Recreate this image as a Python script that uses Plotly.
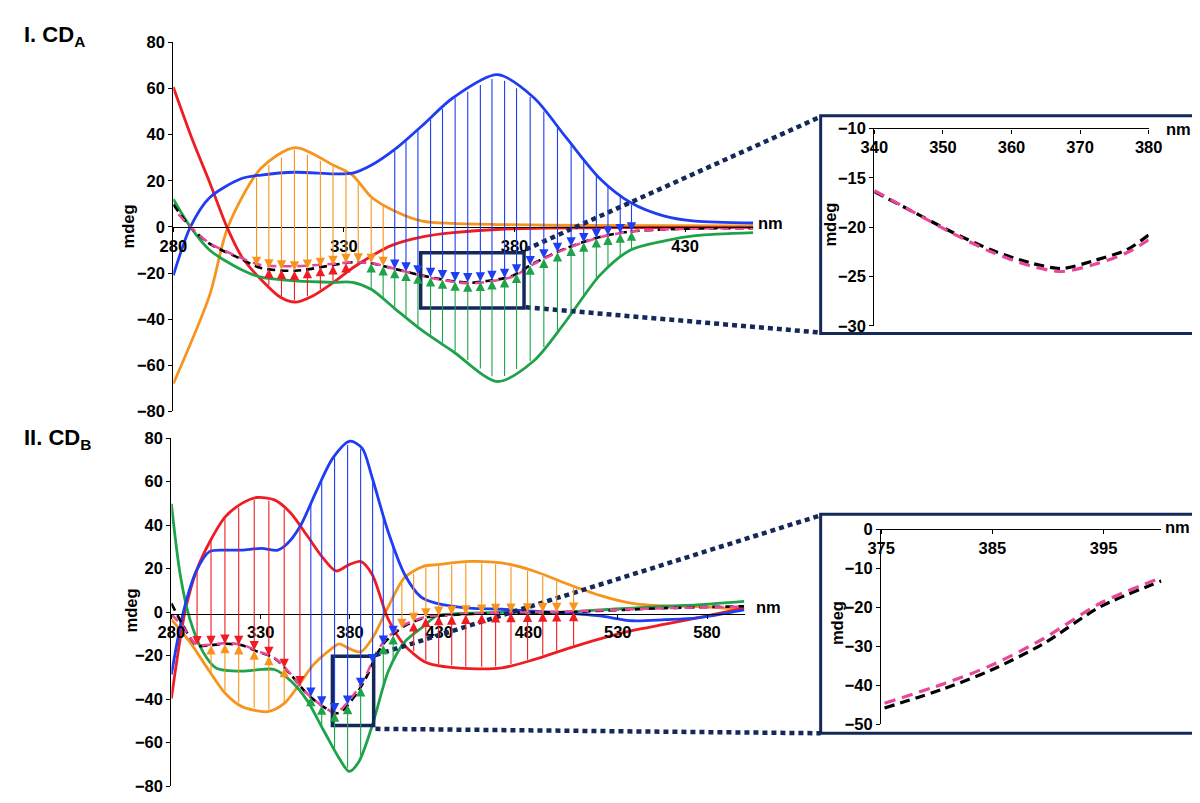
import numpy as np
import plotly.graph_objects as go

# ---------------- data : panel I (CD_A) ----------------
red_I_x = [280, 285.8, 290.6, 295.7, 300, 305.7, 311.4, 315.7, 321, 327, 332.5, 338, 344, 353, 362, 376, 390, 410, 430, 450]
red_I_y = [60.6, 37, 19.5, 0, -12.8, -22.8, -30.5, -32.6, -29.8, -24, -17.8, -12.7, -8, -4.3, -2.5, -1, -0.5, -0.3, -0.2, -0.2]
blue_I_x = [280, 285, 290.6, 300, 305.7, 315.7, 327, 332.5, 338, 345, 353, 362, 375, 385.7, 395, 405, 414, 424, 433, 450]
blue_I_y = [-21, 0, 12.7, 21, 22.5, 23.7, 23, 23.3, 26.7, 33.7, 44, 56, 66, 56, 39, 21, 10.6, 4.7, 2.5, 1.7]
green_I_x = [280, 285, 290.6, 300, 305.7, 315.7, 327, 332.5, 338, 345, 353, 362, 375, 385.7, 395, 405, 414, 424, 433, 450]
green_I_y = [12, 0, -10, -18.6, -21.8, -23.4, -24, -24, -27, -35.5, -45, -54, -67, -58, -41, -21, -10, -6, -3.8, -2.5]
orange_I_x = [280, 290.6, 296, 305.7, 315.7, 327, 332.5, 338, 345, 353, 362, 376, 400, 450]
orange_I_y = [-68, -29.8, 0, 25.4, 34.4, 26.7, 22.5, 13, 6.8, 2.5, 1.5, 1, 0.7, 0.5]
black_I_x = [280, 285, 290.6, 300, 305.7, 315.7, 327, 332.5, 338, 340, 345.5, 351.3, 357, 362.6, 367.3, 372, 376.8, 380, 385.7, 395, 405, 414, 430, 450]
black_I_y = [9.7, 0, -7.2, -14, -17.8, -19, -16.5, -15.3, -15.7, -16.4, -18.4, -20.5, -22.3, -23.6, -24.2, -23.4, -22.3, -20.8, -15.7, -9.3, -4.4, -2, -0.8, -0.5]
pink_I_x = [281.5, 285, 290.6, 300, 305.7, 315.7, 327, 332.5, 338, 340, 345.5, 351.3, 357, 362.6, 367.3, 372, 376.8, 380, 385.7, 395, 405, 414, 430, 450]
pink_I_y = [5.5, 0, -7, -13.5, -16.5, -17, -16, -15.3, -15.7, -16.3, -18.4, -20.6, -22.5, -23.9, -24.5, -23.8, -22.6, -21.3, -16, -9.5, -4.5, -2, -0.8, -0.5]
arrows_I_x = [304.4, 308.0, 311.7, 315.5, 319.3, 323.1, 326.8, 330.6, 334.2, 338.0, 341.5, 344.9, 348.2, 351.7,
              355.4, 358.9, 362.6, 366.3, 370.0, 373.4, 377.1, 380.6, 384.6, 388.6, 392.6, 396.6, 400.3, 404.0,
              407.4, 411.0, 414.3]
arrows_I_orange = arrows_I_x[0:11]
arrows_I_red = arrows_I_x[1:8]
arrows_I_green = arrows_I_x[9:]
arrows_I_blue = arrows_I_x[11:]

# ---------------- data : panel II (CD_B) ----------------
blue_II_x = [280, 286.7, 294, 301.3, 310.4, 319.5, 330.5, 339.6, 345, 352.3, 361.4, 370.5, 380, 386.9, 392.4, 401.5,
             410.6, 419.7, 428.6, 447, 465, 483, 501, 520, 538, 556.6, 574.5, 600.8]
blue_II_y = [-28.7, 0, 18.9, 27.8, 28.5, 28.5, 29.3, 28.5, 31.5, 39.7, 56, 70.9, 78.6, 75.3, 62, 36.7,
             17.4, 7, 4, 1.8, 1.3, 0.4, -0.5, -1.8, -4, -3.5, -2.7, 1]
red_II_x = [280, 287.6, 294, 301.3, 310.4, 319.5, 327.7, 337.7, 346.8, 356, 365, 372.3, 379.6, 386, 392.4, 401.5,
            410.6, 421.5, 428.6, 447, 465, 483, 501.9, 520, 538, 556.6, 574.5, 600.8]
red_II_y = [-39.8, 0, 18.9, 32, 44, 50, 52.7, 51.6, 45.6, 35.2, 24.8, 18.9, 21.8, 23.3, 17.4, -3.4,
            -15.3, -22.7, -24.5, -26, -25.7, -21.9, -16.8, -12.3, -8.5, -5.6, -2.7, 1.8]
green_II_x = [280, 284.9, 290.4, 297.7, 305, 319.5, 330.5, 337.7, 346.8, 356, 365, 374, 379.6, 385, 392.4, 401.5,
              410.6, 421.5, 428.6, 447, 465, 501.9, 520, 538, 556.6, 574.5, 600.8]
green_II_y = [49.8, 17.4, -3.4, -18.3, -25.7, -27.2, -26.4, -26.4, -31.6, -40.6, -54, -67.3, -73.3, -68.8, -52.5, -27.2,
              -13.8, -6.4, -1.8, -0.5, -0.1, 0, 1, 1.8, 2.7, 3.3, 4.9]
orange_II_x = [280, 290.4, 301.3, 310.4, 319.5, 334, 343.2, 350.5, 359.6, 368.7, 374, 379.6, 386, 392.4, 401.5,
               410.6, 421.5, 428.6, 447, 465, 483, 501.9, 520, 538, 556.6, 574.5, 600.8]
orange_II_y = [-3.4, -13.8, -27.2, -37.6, -43.5, -45.8, -42, -34.6, -24.2, -17.5, -14.6, -16.8, -18.3, -12.3, 2.5,
               15.9, 21.1, 21.8, 23.3, 22.6, 18.9, 12.9, 7.7, 4, 2.8, 2.5, 1.3]
black_II_x = [280, 286.7, 294, 301.3, 310.4, 319.5, 328.6, 337.7, 346.8, 356, 365, 372.3, 375.3, 380.7, 384.8, 389.5,
              394.7, 400.2, 410.6, 421.5, 428.6, 465, 501.9, 556.6, 600.8]
black_II_y = [4, -6.4, -15.3, -15.3, -14.6, -15.3, -18.3, -21.2, -28.7, -37.6, -43.5, -46.5, -45.8, -40.8, -36.2, -29.5,
              -19.9, -13.3, -6.4, -2.7, -1.8, -0.4, 0, 1.8, 2.7]
pink_II_x = black_II_x
pink_II_y = [-1, -7, -15, -15, -14.3, -15, -18, -21, -28.5, -37.5, -43.5, -46.5, -44.6, -39.5, -35, -28.2,
             -19, -12.4, -5.8, -2.4, -1.6, -0.3, 0.3, 1.8, 2.5]
arrows_II_x = [294.4, 302.2, 310.0, 317.7, 326.4, 334.6, 343.2, 352.0, 358.1, 364.2, 371.4, 378.7, 386.0, 392.7,
               398.7, 404.2, 409.1, 415.7, 422.5, 429.7, 437.0, 444.9, 453.8, 461.6, 470.2, 479.5, 488.0, 495.8, 505.3]
arrows_II_red_down = arrows_II_x[0:8]
arrows_II_orange_up = arrows_II_x[1:7]
arrows_II_blue = arrows_II_x[8:16]
arrows_II_green = [358.1, 364.2, 371.4, 378.7, 386.0, 398.7, 404.2]
arrows_II_orange_down = arrows_II_x[16:]
arrows_II_red_up = arrows_II_x[17:]

ticks_I_x = [280, 330, 380, 430]
ticks_II_x = [280, 330, 380, 430, 480, 530, 580]
ticks_main_y = [-80, -60, -40, -20, 0, 20, 40, 60, 80]
ticks_in1_x = [340, 350, 360, 370, 380]
ticks_in1_y = [-30, -25, -20, -15, -10]
ticks_in2_x = [375, 385, 395]
ticks_in2_y = [-50, -40, -30, -20, -10, 0]

# ---------------- style ----------------
RED = '#EE1D23'
BLUE = '#1F3DF2'
GREEN = '#1FA34A'
ORANGE = '#F7941D'
PINK = '#E9489A'
NAVY = '#14285A'
FONT = 'Liberation Sans, Arial, sans-serif'
OFF = 8                      # default page margin of the html body
W, H = 1200 - 2 * OFF, 803 - 2 * OFF


def px(x):
    return min(1.0, max(0.0, (x - OFF) / W))


def py(y):
    return min(1.0, max(0.0, 1 - (y - OFF) / H))


def ppx(x):   # unclamped, for shapes
    return (x - OFF) / W


def ppy(y):
    return 1 - (y - OFF) / H


fig = go.Figure()


def curve(xs, ys, color, xa, ya, dash=None, width=2.8):
    fig.add_trace(go.Scatter(x=xs, y=ys, mode='lines', xaxis=xa, yaxis=ya,
                             line=dict(color=color, width=width, shape='spline', smoothing=0.8,
                                       dash=dash),
                             hoverinfo='skip', showlegend=False))


# panel I
curve(orange_I_x, orange_I_y, ORANGE, 'x', 'y')
curve(red_I_x, red_I_y, RED, 'x', 'y')
curve(green_I_x, green_I_y, GREEN, 'x', 'y')
curve(blue_I_x, blue_I_y, BLUE, 'x', 'y')
curve(black_I_x, black_I_y, 'black', 'x', 'y', dash='8px,5px', width=2.6)
curve(pink_I_x, pink_I_y, PINK, 'x', 'y', dash='9px,6px', width=2.6)
# panel II
curve(orange_II_x, orange_II_y, ORANGE, 'x2', 'y2')
curve(red_II_x, red_II_y, RED, 'x2', 'y2')
curve(green_II_x, green_II_y, GREEN, 'x2', 'y2')
curve(blue_II_x, blue_II_y, BLUE, 'x2', 'y2')
curve(black_II_x, black_II_y, 'black', 'x2', 'y2', dash='8px,5px', width=2.6)
curve(pink_II_x, pink_II_y, PINK, 'x2', 'y2', dash='9px,6px', width=2.6)


# insets: the summed spectra in the zoomed windows
def subset(xs, ys, lo, hi):
    pts = [(a, b) for a, b in zip(xs, ys) if lo <= a <= hi]
    return [p[0] for p in pts], [p[1] for p in pts]


bx, by = subset(black_I_x, black_I_y, 340, 380)
kx, ky = subset(pink_I_x, pink_I_y, 340, 380)
curve(bx, by, 'black', 'x3', 'y3', dash='10px,6px', width=3.2)
curve(kx, ky, PINK, 'x3', 'y3', dash='11px,7px', width=3.2)
bx, by = subset(black_II_x, black_II_y, 375, 401)
kx, ky = subset(pink_II_x, pink_II_y, 375, 401)
curve(bx, by, 'black', 'x4', 'y4', dash='10px,6px', width=3.2)
curve(kx, ky, PINK, 'x4', 'y4', dash='11px,7px', width=3.2)


# arrows from component spectra to the summed spectrum
def arrows(xs, src_x, src_y, tgt_x, tgt_y, color, xr, yr):
    for x in xs:
        y0 = float(np.interp(x, src_x, src_y))
        y1 = float(np.interp(x, tgt_x, tgt_y))
        fig.add_annotation(x=x, y=y1, ax=x, ay=y0, xref=xr, yref=yr, axref=xr, ayref=yr,
                           text='', showarrow=True, arrowhead=2, arrowsize=1.7, arrowwidth=1.1,
                           arrowcolor=color, standoff=0)


arrows(arrows_I_orange, orange_I_x, orange_I_y, black_I_x, black_I_y, ORANGE, 'x', 'y')
arrows(arrows_I_red, red_I_x, red_I_y, black_I_x, black_I_y, RED, 'x', 'y')
arrows(arrows_I_green, green_I_x, green_I_y, black_I_x, black_I_y, GREEN, 'x', 'y')
arrows(arrows_I_blue, blue_I_x, blue_I_y, black_I_x, black_I_y, BLUE, 'x', 'y')

arrows(arrows_II_red_down, red_II_x, red_II_y, black_II_x, black_II_y, RED, 'x2', 'y2')
arrows(arrows_II_orange_up, orange_II_x, orange_II_y, black_II_x, black_II_y, ORANGE, 'x2', 'y2')
arrows(arrows_II_blue, blue_II_x, blue_II_y, black_II_x, black_II_y, BLUE, 'x2', 'y2')
arrows(arrows_II_green, green_II_x, green_II_y, black_II_x, black_II_y, GREEN, 'x2', 'y2')
arrows(arrows_II_orange_down, orange_II_x, orange_II_y, black_II_x, black_II_y, ORANGE, 'x2', 'y2')
arrows(arrows_II_red_up, red_II_x, red_II_y, black_II_x, black_II_y, RED, 'x2', 'y2')

tickfont = dict(family=FONT, size=16.5, color='black', weight='bold')
axcommon = dict(showgrid=False, zeroline=False, showline=True, linecolor='black', linewidth=1.3,
                ticks='outside', ticklen=4, tickcolor='black', tickwidth=1.2, tickfont=tickfont,
                fixedrange=True)

fig.update_layout(
    width=W, height=H, autosize=False,
    margin=dict(l=0, r=0, t=0, b=0),
    paper_bgcolor='white', plot_bgcolor='white',
    showlegend=False,
    xaxis=dict(domain=[px(163), px(757)], range=[280, 450], anchor='free', position=py(222.8),
               tickvals=ticks_I_x, **axcommon),
    yaxis=dict(domain=[py(411.7), py(34)], range=[-80, 80], anchor='x', tickvals=ticks_main_y, **axcommon),
    xaxis2=dict(domain=[px(161), px(748)], range=[280, 601], anchor='free', position=py(618.5),
                tickvals=ticks_II_x, **axcommon),
    yaxis2=dict(domain=[py(798), py(439)], range=[-80, 80], anchor='x2', tickvals=ticks_main_y, **axcommon),
    xaxis3=dict(domain=[px(881), px(1162)], range=[340, 380], anchor='free', position=py(122),
                tickvals=ticks_in1_x, **axcommon),
    yaxis3=dict(domain=[py(324), py(122)], range=[-30, -10], anchor='x3', tickvals=ticks_in1_y, **axcommon),
    xaxis4=dict(domain=[px(888), px(1175)], range=[375, 400.2], anchor='free', position=py(532),
                tickvals=ticks_in2_x, **axcommon),
    yaxis4=dict(domain=[py(732), py(532)], range=[-50, 0], anchor='x4', tickvals=ticks_in2_y, **axcommon),
)

# zoom boxes in the main panels
fig.add_shape(type='rect', xref='x', yref='y', x0=352.5, x1=382.8, y0=-35.1, y1=-11.2,
              line=dict(color=NAVY, width=3.5), layer='above')
fig.add_shape(type='rect', xref='x2', yref='y2', x0=370.2, x1=393.3, y0=-52.2, y1=-20.3,
              line=dict(color=NAVY, width=3.5), layer='above')
# inset frames
fig.add_shape(type='rect', xref='paper', yref='paper', x0=ppx(826), x1=ppx(1215), y0=ppy(332), y1=ppy(109),
              line=dict(color=NAVY, width=3), layer='above')
fig.add_shape(type='rect', xref='paper', yref='paper', x0=ppx(826), x1=ppx(1215), y0=ppy(741), y1=ppy(517),
              line=dict(color=NAVY, width=3), layer='above')
# dotted connectors
for (x0, y0, x1, y1) in [(524, 246, 826, 110), (524, 305, 826, 331), (370, 661, 826, 518), (370, 736.5, 826, 741)]:
    fig.add_shape(type='line', xref='paper', yref='paper', x0=ppx(x0), y0=ppy(y0), x1=ppx(x1), y1=ppy(y1),
                  line=dict(color=NAVY, width=4.5, dash='5px,4px'), layer='above')

# texts
bold = dict(family=FONT, color='black', weight='bold')
fig.add_annotation(xref='paper', yref='paper', x=ppx(8), y=ppy(27), xanchor='left', yanchor='middle',
                   text='I. CD<sub>A</sub>', showarrow=False, font=dict(size=22, **bold))
fig.add_annotation(xref='paper', yref='paper', x=ppx(8), y=ppy(440), xanchor='left', yanchor='middle',
                   text='II. CD<sub>B</sub>', showarrow=False, font=dict(size=22, **bold))
for (x, y) in [(117, 222), (120, 615), (836, 220), (843, 628)]:
    fig.add_annotation(xref='paper', yref='paper', x=ppx(x), y=ppy(y), text='mdeg', textangle=-90,
                       xanchor='center', yanchor='middle',
                       showarrow=False, font=dict(size=16.5, **bold))
for (x, y) in [(760, 219), (758, 612), (1178, 123), (1177, 530)]:
    fig.add_annotation(xref='paper', yref='paper', x=ppx(x), y=ppy(y), xanchor='left', yanchor='middle',
                       text='nm', showarrow=False, font=dict(size=16.5, **bold))

fig.write_html('out.html', config={'displayModeBar': False})
